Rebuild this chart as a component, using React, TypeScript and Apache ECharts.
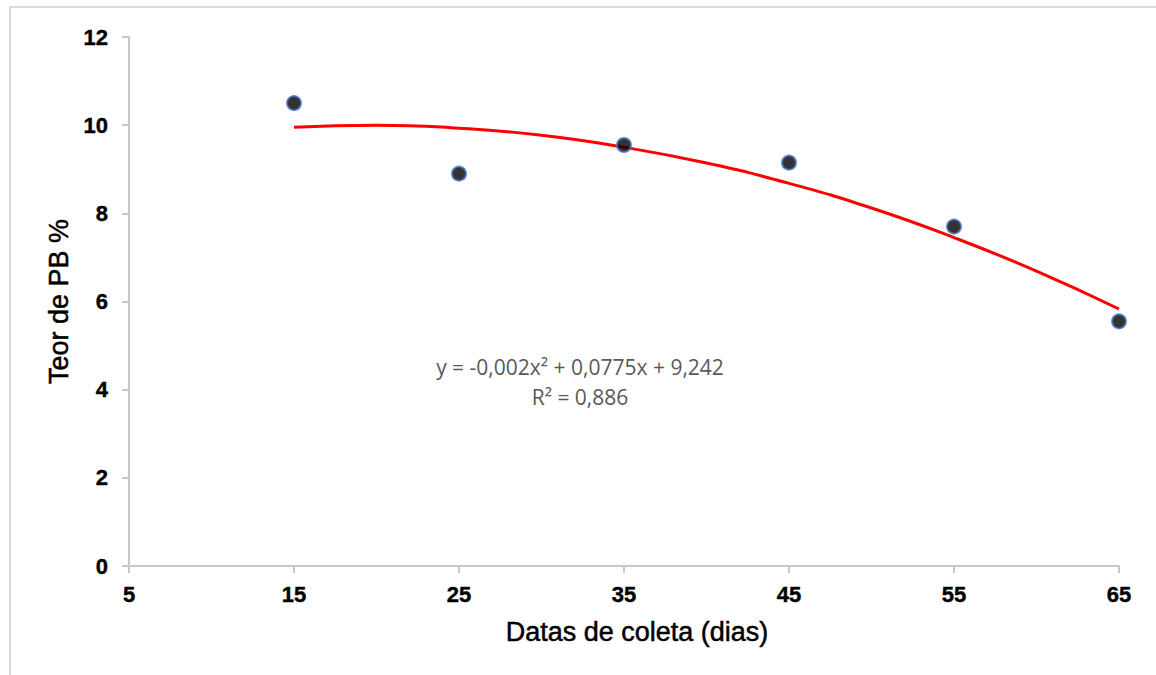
import React, { useEffect, useRef } from "react";
import * as echarts from "echarts";

const xTicks = [5, 15, 25, 35, 45, 55, 65];
const obsX = [15, 25, 35, 45, 55, 65];
const obsY = [10.5, 8.9, 9.55, 9.15, 7.7, 5.55];
const trendX = [15, 20, 25, 30, 35, 40, 45, 50, 55, 60, 65];
const trendY = [9.95, 10.0, 9.93, 9.77, 9.5, 9.14, 8.68, 8.12, 7.45, 6.69, 5.83];
const equationText = "y = -0,002x² + 0,0775x + 9,242";
const r2Text = "R² = 0,886";
const xTitle = "Datas de coleta (dias)";
const yTitle = "Teor de PB %";

export default function App() {
  const ref = useRef<HTMLDivElement>(null);
  useEffect(() => {
    if (!ref.current) return;
    const chart = echarts.init(ref.current, null, { renderer: "svg" });
    const axisColor = "#c8c8c8";
    chart.setOption({
      animation: false,
      backgroundColor: "#ffffff",
      grid: { left: 129, right: 37, top: 37, bottom: 109, containLabel: false },
      xAxis: {
        type: "value",
        min: xTicks[0],
        max: xTicks[xTicks.length - 1],
        interval: 10,
        name: xTitle,
        nameLocation: "middle",
        nameGap: 52,
        nameTextStyle: {
          fontFamily: "Liberation Sans",
          fontSize: 27,
          color: "#000",
          textBorderColor: "#000",
          textBorderWidth: 0.5,
          padding: [0, 0, 0, 26],
        },
        axisLine: { show: true, lineStyle: { color: axisColor, width: 2 } },
        axisTick: { show: true, length: 7, lineStyle: { color: axisColor, width: 2 } },
        splitLine: { show: false },
        axisLabel: {
          fontFamily: "Liberation Sans",
          fontSize: 22,
          fontWeight: "bold",
          color: "#000",
          margin: 17,
          textBorderColor: "#000",
          textBorderWidth: 0.4,
        },
      },
      yAxis: {
        type: "value",
        min: 0,
        max: 12,
        interval: 2,
        name: yTitle,
        nameLocation: "middle",
        nameGap: 55,
        nameTextStyle: {
          fontFamily: "Liberation Sans",
          fontSize: 27,
          color: "#000",
          textBorderColor: "#000",
          textBorderWidth: 0.5,
        },
        axisLine: { show: true, lineStyle: { color: axisColor, width: 2 } },
        axisTick: { show: true, length: 7, lineStyle: { color: axisColor, width: 2 } },
        splitLine: { show: false },
        axisLabel: {
          fontFamily: "Liberation Sans",
          fontSize: 22,
          fontWeight: "bold",
          color: "#000",
          margin: 21,
          textBorderColor: "#000",
          textBorderWidth: 0.4,
        },
      },
      series: [
        {
          type: "line",
          data: trendX.map((x, i) => [x, trendY[i]]),
          smooth: true,
          showSymbol: false,
          symbol: "none",
          lineStyle: { color: "#ff0000", width: 3 },
          z: 2,
        },
        {
          type: "scatter",
          data: obsX.map((x, i) => [x, obsY[i]]),
          symbol: "circle",
          symbolSize: 14,
          itemStyle: { color: "#000000", borderColor: "#4472c4", borderWidth: 2 },
          z: 3,
        },
      ],
      graphic: [
        {
          type: "rect",
          shape: { x: 10, y: 7, width: 1200, height: 720 },
          style: { fill: "none", stroke: "#d9d9d9", lineWidth: 2 },
          silent: true,
          z: -1,
        },
        {
          type: "text",
          x: 580,
          y: 367,
          style: {
            text: equationText,
            fontFamily: "Open Sans",
            fontSize: 21,
            fill: "#595959",
            align: "center",
            verticalAlign: "middle",
          },
        },
        {
          type: "text",
          x: 580,
          y: 397,
          style: {
            text: r2Text,
            fontFamily: "Open Sans",
            fontSize: 21,
            fill: "#595959",
            align: "center",
            verticalAlign: "middle",
          },
        },
      ],
    });
    return () => chart.dispose();
  }, []);
  return (
    <div
      ref={ref}
      style={{ position: "fixed", left: 0, top: 0, width: 1156, height: 675, background: "#fff" }}
    />
  );
}
